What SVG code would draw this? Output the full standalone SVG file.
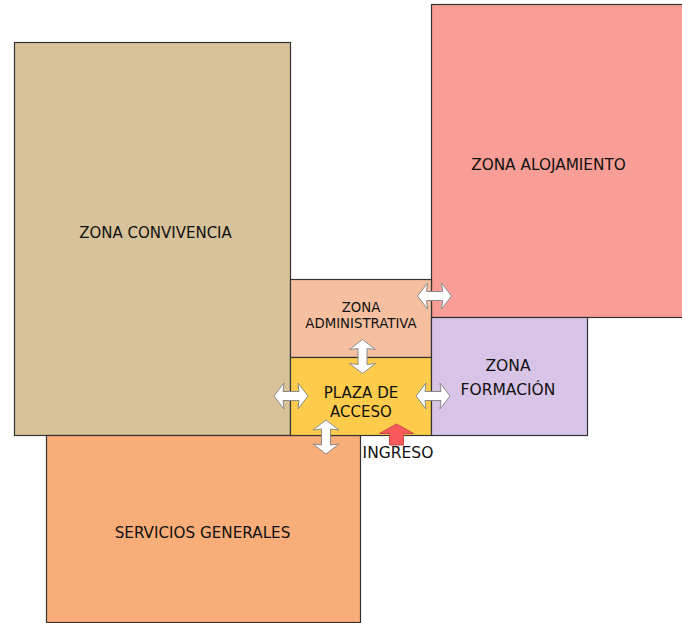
<svg xmlns="http://www.w3.org/2000/svg" xmlns:xlink="http://www.w3.org/1999/xlink" width="682" height="623" viewBox="0 0 682 623">
<style>
.zone{stroke:#333;stroke-width:1.2}
.t{font-family:"DejaVu Sans",Verdana,sans-serif;fill:#111;text-anchor:middle;dominant-baseline:central}
.dbl{fill:#fff;stroke:#8a8a8a;stroke-width:1}
</style>
<defs>
<path id="dbl" d="M -17,0 L -7,-13 L -8,-4.5 L 8,-4.5 L 7,-13 L 17,0 L 7,13 L 8,4.5 L -8,4.5 L -7,13 Z"/>
</defs>
<rect width="682" height="623" fill="#fff"/>
<g id="zona-convivencia">
<rect class="zone" x="14.5" y="42.5" width="276" height="393" fill="#D8C299"/>
<text class="t" x="155.5" y="233" font-size="15">ZONA CONVIVENCIA</text>
</g>
<g id="zona-alojamiento">
<rect class="zone" x="431.5" y="4.5" width="260" height="313" fill="#F89E96" stroke="#555"/>
<text class="t" x="548.5" y="165" font-size="15.3">ZONA ALOJAMIENTO</text>
</g>
<g id="servicios-generales">
<rect class="zone" x="46.5" y="435.5" width="314" height="187" fill="#F9AD79"/>
<text class="t" x="202.5" y="533" font-size="15.2">SERVICIOS GENERALES</text>
</g>
<g id="zona-administrativa">
<rect class="zone" x="290.5" y="279.5" width="141" height="78" fill="#F6C0A0"/>
<text class="t" x="361" y="307" font-size="13.3">ZONA</text>
<text class="t" x="361" y="323" font-size="13.3">ADMINISTRATIVA</text>
</g>
<g id="plaza-de-acceso">
<rect class="zone" x="290.5" y="357.5" width="141" height="78" fill="#FECC4A"/>
<text class="t" x="361" y="393" font-size="15">PLAZA DE</text>
<text class="t" x="361" y="412" font-size="15">ACCESO</text>
</g>
<g id="zona-formacion">
<rect class="zone" x="431.5" y="317.5" width="156" height="118" fill="#D8C4E6" stroke="#555"/>
<text class="t" x="508" y="366" font-size="15.5">ZONA</text>
<text class="t" x="508" y="390" font-size="15.5">FORMACIÓN</text>
</g>
<g id="ingreso">
<path d="M 396.5,424 L 413.5,433.5 L 403.5,433.5 L 403.5,445 L 389.5,445 L 389.5,433.5 L 379.5,433.5 Z" fill="#F85A5A" stroke="#C84848" stroke-width="1"/>
<text class="t" x="398" y="453" font-size="15.5">INGRESO</text>
</g>
<g id="connectors">
<use xlink:href="#dbl" class="dbl" transform="translate(434.5,296)"/>
<use xlink:href="#dbl" class="dbl" transform="translate(362.5,356.5) rotate(90)"/>
<use xlink:href="#dbl" class="dbl" transform="translate(291,396)"/>
<use xlink:href="#dbl" class="dbl" transform="translate(433,396)"/>
<use xlink:href="#dbl" class="dbl" transform="translate(326,437) rotate(90)"/>
</g>
</svg>
